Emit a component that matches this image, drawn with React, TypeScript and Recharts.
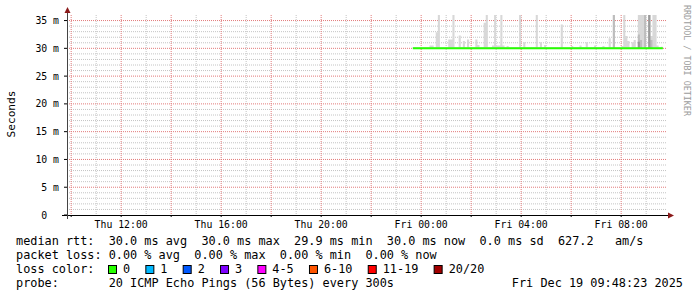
import { ComposedChart, Area, Line, XAxis, YAxis, CartesianGrid } from 'recharts'

const FONT = '"DejaVu Sans Mono", monospace'

// time in hours counted from Thu 00:00, one step = 5 minutes (300s probe)
const rangeStart = 9 + 50 / 60
const rangeEnd = 33 + 50 / 60
const firstStep = 23 + 40 / 60
const stepHours = 5 / 60

// median rtt per step (ms), Thu 23:40 -> Fri 09:40
const medianRtt = [
  30.0, 30.0, 30.0, 30.0, 30.0, 30.0, 30.0, 30.0, 30.0, 30.0, 30.0, 30.0, 30.0, 30.0, 30.0, 30.0, 30.0, 30.0, 30.0, 30.0,
  30.0, 30.0, 30.0, 30.0, 30.0, 30.0, 30.0, 30.0, 30.0, 30.0, 30.0, 30.0, 30.0, 30.0, 30.0, 30.0, 30.0, 30.0, 30.0, 30.0,
  30.0, 30.0, 30.0, 30.0, 30.0, 30.0, 30.0, 30.0, 30.0, 30.0, 30.0, 30.0, 30.0, 30.0, 30.0, 30.0, 30.0, 30.0, 30.0, 30.0,
  30.0, 30.0, 30.0, 30.0, 30.0, 30.0, 30.0, 30.0, 30.0, 30.0, 30.0, 30.0, 30.0, 30.0, 30.0, 30.0, 30.0, 30.0, 30.0, 30.0,
  30.0, 30.0, 30.0, 30.0, 30.0, 30.0, 30.0, 30.0, 30.0, 30.0, 30.0, 30.0, 30.0, 30.0, 30.0, 30.0, 30.0, 30.0, 30.0, 30.0,
  30.0, 30.0, 30.0, 30.0, 30.0, 30.0, 30.0, 30.0, 30.0, 30.0, 30.0, 30.0, 30.0, 30.0, 30.0, 30.0, 30.0, 30.0, 30.0, 30.0,
  30.0,
]

// smoke: lowest ping and the steps where the slowest pings stick out
const smokeLow = 29.9
const smokeFloor = 30.2
const spikeSteps = [8, 9, 11, 12, 17, 18, 19, 22, 24, 26, 30, 31, 34, 35, 38, 39, 40, 41, 42, 43, 45, 51, 53, 59, 61, 63,
  71, 76, 80, 83, 87, 91, 94, 96, 100, 101, 102, 103, 105, 106, 108, 109, 110, 111, 113, 114, 115, 116, 117, 119]
const spikeTops = [30.5, 30.5, 32.9, 36, 31.6, 31.6, 36, 32.3, 31.3, 31.6, 31.6, 30.6, 34.6, 36, 30.5, 36, 30.5, 30.5, 36, 30.5, 30.4, 36, 31.1, 36, 31.1, 30.6,
  34.3, 30.4, 30.5, 31.1, 30.5, 30.4, 31.8, 36, 30.4, 36, 32.2, 31.3, 31.1, 31.5, 36, 36, 36, 36, 36, 32.2, 36, 36, 30.5, 30.3]

// denser smoke (more pings in the band)
const midSteps = [96, 108, 109, 111, 113, 114]
const midTops = [36, 32.5, 31.5, 36, 36, 31.5]
const darkSteps = [108, 113]
const darkTops = [31.2, 36]

const yTicks = [0, 5, 10, 15, 20, 25, 30, 35]
const yMinor = [1, 2, 3, 4, 6, 7, 8, 9, 11, 12, 13, 14, 16, 17, 18, 19, 21, 22, 23, 24, 26, 27, 28, 29, 31, 32, 33, 34]
const xMajor = [10, 12, 14, 16, 18, 20, 22, 24, 26, 28, 30, 32]
const xMinor = [11, 13, 15, 17, 19, 21, 23, 25, 27, 29, 31, 33]

const lossLabels = ['0', '1', '2', '3', '4-5', '6-10', '11-19', '20/20']
const lossColors = ['#26ff00', '#00b8ff', '#0059ff', '#7e00ff', '#ff00ff', '#ff5500', '#ff0000', '#a10000']

const legendLines = [
  'median rtt:  30.0 ms avg  30.0 ms max  29.9 ms min  30.0 ms now  0.0 ms sd  627.2   am/s',
  'packet loss: 0.00 % avg  0.00 % max  0.00 % min  0.00 % now',
  'loss color:',
  'probe:       20 ICMP Echo Pings (56 Bytes) every 300s',
]
const stamp = 'Fri Dec 19 09:48:23 2025'

const pick = (steps: number[], tops: number[], i: number, dflt: number) => {
  const k = steps.indexOf(i)
  return k >= 0 ? tops[k] : dflt
}

const rows = medianRtt.map((m, i) => ({
  t: firstStep + i * stepHours,
  median: m,
  smoke: [smokeLow, pick(spikeSteps, spikeTops, i, smokeFloor)],
  mid: [smokeLow, pick(midSteps, midTops, i, smokeLow)],
  dark: [smokeLow, pick(darkSteps, darkTops, i, smokeLow)],
}))

const fmtTime = (h: number) => {
  const day = h < 24 ? 'Thu' : 'Fri'
  const hh = String(h % 24).padStart(2, '0')
  return `${day} ${hh}:00`
}

const XTick = ({ x, y, payload }: any) =>
  payload.value % 4 === 0 ? (
    <text x={x} y={y + 9} textAnchor="middle" fontFamily={FONT} fontSize={9.8} fill="#000">
      {fmtTime(payload.value)}
    </text>
  ) : null

const YTick = ({ x, y, payload }: any) => (
  <text x={payload.value === 0 ? x - 11.8 : x} y={y + 3.5} textAnchor="end" fontFamily={FONT} fontSize={9.8} fill="#000">
    {payload.value === 0 ? '0' : `${payload.value} m`}
  </text>
)

const CHAR_W = 7.14

function LossLegend() {
  let bx = 108.5
  return (
    <g>
      {lossLabels.map((label, i) => {
        const x = bx
        const tx = x + 14.5
        bx = tx + label.length * CHAR_W + 15.7
        return (
          <g key={label}>
            <rect x={x} y={265.5} width={8} height={8} fill={lossColors[i]} stroke="#000" strokeWidth={1} />
            <text x={tx} y={273} fontFamily={FONT} fontSize={11.85} fill="#000">{label}</text>
          </g>
        )
      })}
    </g>
  )
}

export default function App() {
  return (
    <div style={{ position: 'absolute', left: 0, top: 0, width: 697, height: 297, background: '#fff' }}>
      <ComposedChart width={697} height={297} data={rows} margin={{ top: 15, right: 30, bottom: 52, left: 0 }}>
        <CartesianGrid horizontal={false} verticalValues={xMinor} stroke="#c4c4c4" strokeDasharray="1 1" />
        <CartesianGrid vertical={false} horizontalValues={yMinor} stroke="#c4c4c4" strokeDasharray="1 1" />
        <CartesianGrid horizontal={false} verticalValues={xMajor} stroke="#e27a7a" strokeDasharray="1 1" />
        <CartesianGrid vertical={false} horizontalValues={yTicks.filter((v) => v > 0)} stroke="#e27a7a" strokeDasharray="1 1" />
        <XAxis
          dataKey="t"
          type="number"
          domain={[rangeStart, rangeEnd]}
          ticks={xMajor}
          allowDataOverflow
          axisLine={false}
          tickLine={{ stroke: '#000' }}
          tickSize={2}
          tickMargin={2}
          height={30}
          tick={<XTick />}
          interval={0}
        />
        <YAxis
          type="number"
          domain={[0, 36]}
          ticks={yTicks}
          allowDataOverflow
          axisLine={false}
          tickLine={{ stroke: '#000' }}
          tickSize={3}
          tickMargin={5}
          width={67}
          tick={<YTick />}
          interval={0}
        />
        <Area dataKey="smoke" type="stepAfter" fill="#d8d8d8" fillOpacity={1} stroke="none" isAnimationActive={false} />
        <Area dataKey="mid" type="stepAfter" fill="#bdbdbd" fillOpacity={1} stroke="none" isAnimationActive={false} />
        <Area dataKey="dark" type="stepAfter" fill="#9a9a9a" fillOpacity={1} stroke="none" isAnimationActive={false} />
        <Line dataKey="median" type="stepAfter" stroke="#26ff00" strokeWidth={2} dot={false} isAnimationActive={false} />
      </ComposedChart>
      <svg width={697} height={297} style={{ position: 'absolute', left: 0, top: 0, pointerEvents: 'none' }}>
        {/* axes with rrdtool style arrows */}
        <line x1={62} y1={215.5} x2={669} y2={215.5} stroke="#000" strokeWidth={1} />
        <polygon points="668,212.5 674,215.5 668,218.5" fill="#8b1a1a" />
        <line x1={67.5} y1={219} x2={67.5} y2={12} stroke="#444" strokeWidth={1} />
        <polygon points="64.5,13 67.5,7 70.5,13" fill="#8b1a1a" />
        <text
          x={15}
          y={114}
          transform="rotate(-90 15 114)"
          textAnchor="middle"
          fontFamily={FONT}
          fontSize={11.2}
          fill="#000"
        >
          Seconds
        </text>
        <text x={684} y={5} transform="rotate(90 684 5)" fontFamily={FONT} fontSize={8.4} fill="#9c9c9c">
          RRDTOOL / TOBI OETIKER
        </text>
        {legendLines.map((line, i) => (
          <text key={i} x={16} y={245 + i * 14} fontFamily={FONT} fontSize={11.85} fill="#000" style={{ whiteSpace: 'pre' }}>
            {line}
          </text>
        ))}
        <LossLegend />
        <text x={683} y={287} textAnchor="end" fontFamily={FONT} fontSize={11.85} fill="#000" style={{ whiteSpace: 'pre' }}>
          {stamp}
        </text>
      </svg>
    </div>
  )
}
